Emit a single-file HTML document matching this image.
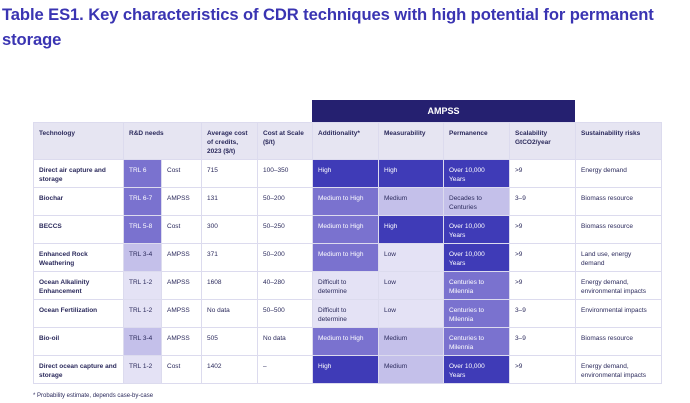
<!DOCTYPE html>
<html><head><style>
body{margin:0;width:690px;height:403px;background:#fff;font-family:"Liberation Sans",sans-serif;position:relative;overflow:hidden}
h1{position:absolute;left:2px;top:2px;margin:0;font-size:16.6px;line-height:25px;color:#3a34b2;font-weight:bold;width:685px;letter-spacing:-0.1px}
.amp{position:absolute;left:312px;top:100px;width:263px;height:22px;background:#252070;color:#fff;font-size:9px;font-weight:bold;text-align:center;line-height:22px}
table{position:absolute;left:33px;top:122px;border-collapse:collapse;table-layout:fixed}
td{border:1px solid #dcdbee;font-size:6.5px;color:#2b2a5c;vertical-align:top;padding:6px 3px 0 5px;line-height:9px;height:21px;overflow:hidden}
tr.h td{background:#e6e5f2;font-weight:bold;height:30px}
td.b{font-weight:bold}
td.p{padding-right:14px}
td.s{padding-right:8px}
.d{background:#3f3bb7;color:#fff}
.m{background:#7a72cf;color:#fff}
.l{background:#c4c0ea}
.x{background:#e4e2f5}
.f{position:absolute;left:33px;top:393px;font-size:6px;color:#2b2a5c}
</style></head><body>
<h1>Table ES1. Key characteristics of CDR techniques with high potential for permanent storage</h1>
<div class="amp">AMPSS</div>
<table>
<colgroup><col style="width:90px"><col style="width:38px"><col style="width:40px"><col style="width:56px"><col style="width:55px"><col style="width:66px"><col style="width:65px"><col style="width:66px"><col style="width:66px"><col style="width:86px"></colgroup>
<tr class="h"><td>Technology</td><td colspan="2">R&amp;D needs</td><td>Average cost of credits, 2023 ($/t)</td><td>Cost at Scale ($/t)</td><td>Additionality*</td><td>Measurability</td><td>Permanence</td><td>Scalability GtCO2/year</td><td>Sustainability risks</td></tr>
<tr><td class="b">Direct air capture and storage</td><td class="m">TRL 6</td><td>Cost</td><td>715</td><td>100–350</td><td class="d">High</td><td class="d">High</td><td class="d p">Over 10,000 Years</td><td>&gt;9</td><td class="s">Energy demand</td></tr>
<tr><td class="b">Biochar</td><td class="m">TRL 6-7</td><td>AMPSS</td><td>131</td><td>50–200</td><td class="m">Medium to High</td><td class="l">Medium</td><td class="l p">Decades to Centuries</td><td>3–9</td><td class="s">Biomass resource</td></tr>
<tr><td class="b">BECCS</td><td class="m">TRL 5-8</td><td>Cost</td><td>300</td><td>50–250</td><td class="m">Medium to High</td><td class="d">High</td><td class="d p">Over 10,000 Years</td><td>&gt;9</td><td class="s">Biomass resource</td></tr>
<tr><td class="b">Enhanced Rock Weathering</td><td class="l">TRL 3-4</td><td>AMPSS</td><td>371</td><td>50–200</td><td class="m">Medium to High</td><td class="x">Low</td><td class="d p">Over 10,000 Years</td><td>&gt;9</td><td class="s">Land use, energy demand</td></tr>
<tr><td class="b">Ocean Alkalinity Enhancement</td><td class="x">TRL 1-2</td><td>AMPSS</td><td>1608</td><td>40–280</td><td class="x">Difficult to determine</td><td class="x">Low</td><td class="m p">Centuries to Milennia</td><td>&gt;9</td><td class="s">Energy demand, environmental impacts</td></tr>
<tr><td class="b">Ocean Fertilization</td><td class="x">TRL 1-2</td><td>AMPSS</td><td>No data</td><td>50–500</td><td class="x">Difficult to determine</td><td class="x">Low</td><td class="m p">Centuries to Milennia</td><td>3–9</td><td class="s">Environmental impacts</td></tr>
<tr><td class="b">Bio-oil</td><td class="l">TRL 3-4</td><td>AMPSS</td><td>505</td><td>No data</td><td class="m">Medium to High</td><td class="l">Medium</td><td class="m p">Centuries to Milennia</td><td>3–9</td><td class="s">Biomass resource</td></tr>
<tr><td class="b">Direct ocean capture and storage</td><td class="x">TRL 1-2</td><td>Cost</td><td>1402</td><td>–</td><td class="d">High</td><td class="l">Medium</td><td class="d p">Over 10,000 Years</td><td>&gt;9</td><td class="s">Energy demand, environmental impacts</td></tr>
</table>
<div class="f">* Probability estimate, depends case-by-case</div>
</body></html>
